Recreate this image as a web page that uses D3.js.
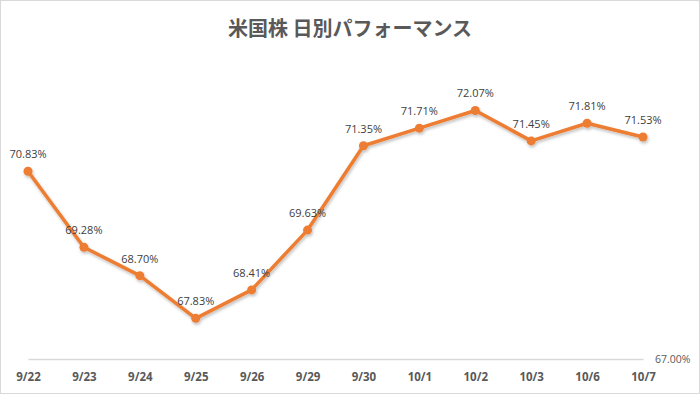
<!DOCTYPE html>
<html>
<head>
<meta charset="utf-8">
<script src="https://cdn.jsdelivr.net/npm/d3@7"></script>
<style>
  body { margin: 0; background: #fff; }
  svg { display: block; }
</style>
</head>
<body>
<svg width="700" height="394"></svg>
<script>
var dates = ["9/22", "9/23", "9/24", "9/25", "9/26", "9/29", "9/30", "10/1", "10/2", "10/3", "10/6", "10/7"];
var values = [70.83, 69.28, 68.70, 67.83, 68.41, 69.63, 71.35, 71.71, 72.07, 71.45, 71.81, 71.53];
var rightTicks = [67.00];

var svg = d3.select("svg"),
    margin = {top: 60, right: 57, bottom: 35, left: 28},
    width = +svg.attr("width") - margin.left - margin.right,
    height = +svg.attr("height") - margin.top - margin.bottom;

// chart border
svg.append("rect")
    .attr("x", 0.5).attr("y", 0.5)
    .attr("width", 699).attr("height", 393)
    .attr("fill", "#fff")
    .attr("stroke", "#d9d9d9");

// soft shadow under the line
var defs = svg.append("defs");
var f = defs.append("filter").attr("id", "shadow")
    .attr("x", "-5%").attr("y", "-5%").attr("width", "110%").attr("height", "120%");
f.append("feDropShadow")
    .attr("dx", 1).attr("dy", 2).attr("stdDeviation", 1.5)
    .attr("flood-color", "#000").attr("flood-opacity", 0.25);

svg.append("text")
    .attr("x", 350).attr("y", 36)
    .attr("text-anchor", "middle")
    .attr("font-family", "'Noto Sans CJK JP', sans-serif")
    .attr("font-size", 20)
    .attr("font-weight", "bold")
    .attr("fill", "#595959")
    .text("米国株 日別パフォーマンス");

var g = svg.append("g").attr("transform", "translate(" + margin.left + "," + margin.top + ")");

var x = d3.scalePoint()
    .domain(dates)
    .range([0, width]);

// 67% sits on the axis line
var y = d3.scaleLinear()
    .domain([67, 73.1])
    .range([height, 0]);

// x axis
var xAxis = g.append("g")
    .attr("transform", "translate(0," + height + ")")
    .call(d3.axisBottom(x).tickSize(0).tickPadding(14));
xAxis.select(".domain").attr("stroke", "#d9d9d9").attr("stroke-width", 1.3);
xAxis.selectAll("text")
    .attr("font-family", "'Open Sans', sans-serif")
    .attr("font-size", 11.5)
    .attr("font-weight", "bold")
    .attr("fill", "#595959");

// right axis (only the minimum shows)
var yAxis = g.append("g")
    .attr("transform", "translate(" + (width + 2) + ",0)")
    .call(d3.axisRight(y).tickValues(rightTicks).tickSize(0).tickPadding(10)
      .tickFormat(function(d) { return d.toFixed(2) + "%"; }));
yAxis.select(".domain").remove();
yAxis.selectAll("text")
    .attr("font-family", "'Open Sans', sans-serif")
    .attr("font-size", 10.5)
    .attr("fill", "#595959");

var line = d3.line()
    .x(function(d, i) { return x(dates[i]); })
    .y(function(d) { return y(d); });

var series = g.append("g").attr("filter", "url(#shadow)");

series.append("path")
    .datum(values)
    .attr("fill", "none")
    .attr("stroke", "#ED7D31")
    .attr("stroke-width", 3.5)
    .attr("stroke-linejoin", "round")
    .attr("stroke-linecap", "round")
    .attr("d", line);

series.selectAll("circle")
    .data(values)
  .enter().append("circle")
    .attr("cx", function(d, i) { return x(dates[i]); })
    .attr("cy", function(d) { return y(d); })
    .attr("r", 4.5)
    .attr("fill", "#ED7D31");

g.selectAll(".lbl")
    .data(values)
  .enter().append("text")
    .attr("class", "lbl")
    .attr("x", function(d, i) { return x(dates[i]); })
    .attr("y", function(d) { return y(d) - 13; })
    .attr("text-anchor", "middle")
    .attr("font-family", "'Open Sans', sans-serif")
    .attr("font-size", 11)
    .attr("fill", "#404040")
    .text(function(d) { return d.toFixed(2) + "%"; });
</script>
</body>
</html>
